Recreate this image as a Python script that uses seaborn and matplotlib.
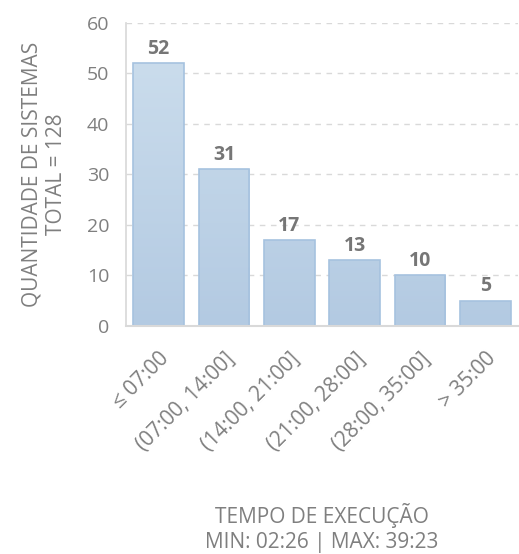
import matplotlib
matplotlib.use("Agg")
import matplotlib.pyplot as plt
from matplotlib.colors import LinearSegmentedColormap
import seaborn as sns
import pandas as pd
import numpy as np

# dados
faixas = ["≤ 07:00", "(07:00, 14:00]", "(14:00, 21:00]", "(21:00, 28:00]", "(28:00, 35:00]", "> 35:00"]
qtd_sistemas = [52, 31, 17, 13, 10, 5]

sns.set_theme(style="white")
plt.rcParams['font.family'] = ['Open Sans', 'DejaVu Sans']

cinza = "#7f7f7f"
df = pd.DataFrame({"faixa": faixas, "qtd": qtd_sistemas})

fig = plt.figure(figsize=(5.19, 5.54), dpi=100)
ax = fig.add_axes([0.2428, 0.4116, 0.7553, 0.5469])

sns.barplot(data=df, x="faixa", y="qtd", color="#bcd1e6", edgecolor="#a6c2df",
            linewidth=1.2, width=0.78, saturation=1, ax=ax)

ax.set_ylim(0, 60)
ax.set_xlim(-0.5, len(faixas) - 0.5)

# degrade nas barras (mais claro em cima)
cmap = LinearSegmentedColormap.from_list("grad", ["#b3cae2", "#cadcec"])
grad = np.linspace(0, 1, 256).reshape(-1, 1)
for p in list(ax.patches):
    im = ax.imshow(grad, cmap=cmap, origin="lower", aspect="auto",
                   extent=(-0.5, len(faixas) - 0.5, 0, max(qtd_sistemas)), zorder=p.get_zorder() - 0.01)
    im.set_clip_path(p)
    p.set_facecolor("none")
ax.set_xlim(-0.5, len(faixas) - 0.5)
ax.set_ylim(0, 60)

ax.set_yticks(range(0, 61, 10))
ax.yaxis.grid(True, linestyle=(0, (4, 4)), color="#d9d9d9", linewidth=1)
ax.set_axisbelow(True)

for s in ["top", "right"]:
    ax.spines[s].set_visible(False)
ax.spines["left"].set_color("#d9d9d9")
ax.spines["bottom"].set_color("#d9d9d9")
ax.spines["bottom"].set_linewidth(1.5)

# ticks entre as categorias
ax.set_xticks(np.arange(-0.5, len(faixas), 1), minor=True)
ax.tick_params(axis="x", which="minor", length=8, width=1.5, color="#d9d9d9", direction="out")
ax.tick_params(axis="x", which="major", length=0, labelsize=15, labelcolor=cinza, pad=16)
ax.tick_params(axis="y", length=0, labelsize=14, labelcolor=cinza, pad=12)
ax.set_xticks(range(len(faixas)))
ax.set_xticklabels(faixas, rotation=45, ha="right", rotation_mode="anchor")

for i, v in enumerate(qtd_sistemas):
    ax.text(i, v + 0.9, str(v), ha="center", va="bottom", fontsize=14,
            fontweight="bold", color="#767676")

ax.set_xlabel("TEMPO DE EXECUÇÃO\nMIN: 02:26 | MAX: 39:23", fontsize=15, color=cinza,
              linespacing=1.25)
ax.xaxis.set_label_coords(0.5, -0.584)
ax.set_ylabel("QUANTIDADE DE SISTEMAS\nTOTAL = 128", fontsize=15, color=cinza,
              linespacing=1.25)
ax.yaxis.set_label_coords(-0.15, 0.5)

fig.savefig("out.png", dpi=100)
